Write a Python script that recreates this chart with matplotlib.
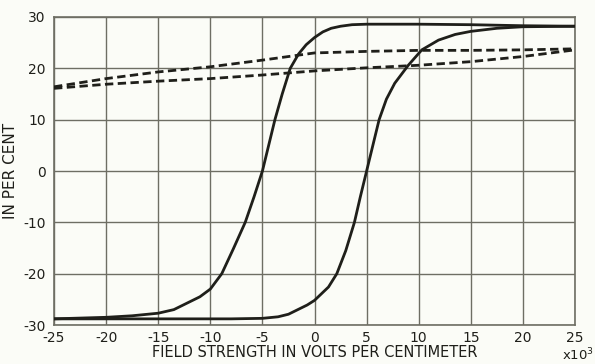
import numpy as np
from matplotlib import pyplot as plt

# descending branch of the loop (solid, left)
desc_x = [-25, -20, -17.5, -15, -13.5, -12.1, -11, -10, -8.9, -7.8, -6.65, -5.8, -5,
          -4.4, -3.8, -3.1, -2.33, -1.53, -0.8, 0, 0.8, 1.6, 2.5, 3.6, 5, 10, 15, 20, 25]
desc_y = [-28.8, -28.5, -28.2, -27.7, -27.0, -25.6, -24.5, -23.0, -20, -15.2, -10, -5, 0,
          5, 10, 15, 20, 22.8, 24.6, 26, 27.1, 27.8, 28.2, 28.5, 28.6, 28.6, 28.5, 28.3, 28.2]

# ascending branch of the loop (solid, right)
asc_x = [-25, -15, -8, -5, -3.5, -2.5, -1.5, -0.7, 0, 1.34, 2.14, 3, 3.83, 4.4, 5,
         5.6, 6.2, 6.9, 7.7, 9.0, 10.3, 11.9, 13.5, 15, 17.5, 20, 25]
asc_y = [-28.8, -28.8, -28.8, -28.7, -28.4, -27.9, -26.9, -26.1, -25.2, -22.6, -20, -15.5, -10, -5, 0,
         5, 10, 14, 17.1, 20.6, 23.6, 25.5, 26.6, 27.2, 27.8, 28.1, 28.2]

# dashed loop
dash_x = [-25, -20, -15, -10, -5, 0, 5, 10, 15, 20, 25]
dash_up = [16.4, 18.0, 19.3, 20.3, 21.6, 23.0, 23.3, 23.5, 23.5, 23.6, 23.8]
dash_lo = [16.1, 16.9, 17.5, 18.0, 18.7, 19.5, 20.1, 20.6, 21.3, 22.3, 23.6]

xticks = [-25, -20, -15, -10, -5, 0, 5, 10, 15, 20, 25]
yticks = [-30, -20, -10, 0, 10, 20, 30]

bg = '#fbfcf7'
ink = '#1f1f1a'
grid = '#6e6e64'

plt.rcParams['font.family'] = ['DejaVu Sans']
fig = plt.figure(figsize=(5.95, 3.64), dpi=100, facecolor=bg)
ax = fig.add_axes([0.0908, 0.1071, 0.8756, 0.8462], facecolor=bg)

ax.plot(desc_x, desc_y, color=ink, lw=2, solid_joinstyle='round', zorder=3)
ax.plot(asc_x, asc_y, color=ink, lw=2, solid_joinstyle='round', zorder=3)
ax.plot(dash_x, dash_up, color=ink, lw=2, dashes=[3, 1.6], zorder=3)
ax.plot(dash_x, dash_lo, color=ink, lw=2, dashes=[3, 1.6], zorder=3)

ax.set_xlim(-25, 25)
ax.set_ylim(-30, 30)
ax.set_xticks(xticks)
ax.set_yticks(yticks)
ax.set_xticklabels(['-' + str(-t) if t < 0 else str(t) for t in xticks])
ax.set_yticklabels(['-' + str(-t) if t < 0 else str(t) for t in yticks])
ax.grid(True, color=grid, lw=1)
ax.tick_params(length=0, labelsize=10, colors=ink)
ax.tick_params(axis='x', pad=4)
ax.tick_params(axis='y', pad=6)
for s in ax.spines.values():
    s.set_color(grid)
    s.set_linewidth(1.2)

ax.set_xlabel('FIELD STRENGTH IN VOLTS PER CENTIMETER', fontsize=10.5, color=ink, labelpad=0)
ax.set_ylabel('IN PER CENT', fontsize=11, color=ink)
ax.yaxis.set_label_coords(-0.069, 0.5)
fig.text(0.998, 0.002, r'x10$^3$', ha='right', va='bottom', fontsize=9.5, color=ink)

fig.savefig('out.png', dpi=100, facecolor=bg)
